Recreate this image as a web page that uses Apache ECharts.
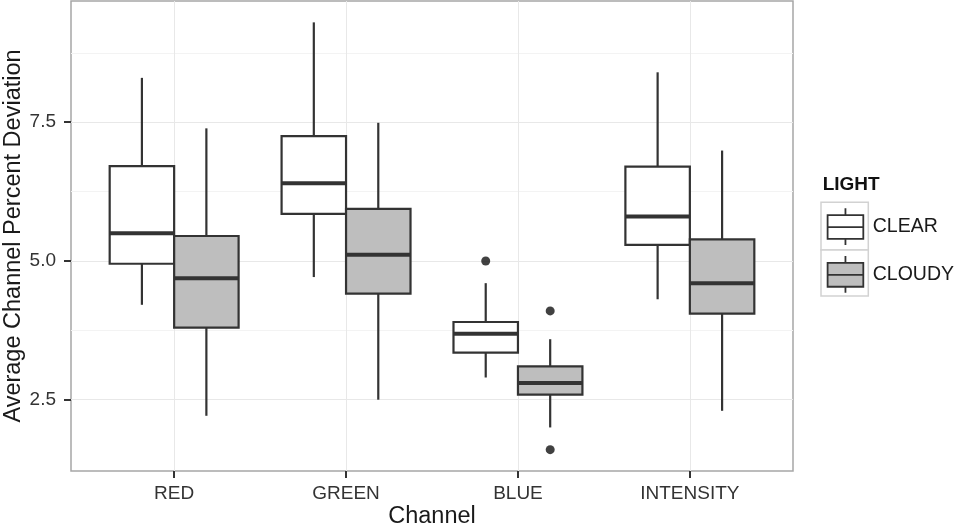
<!DOCTYPE html>
<html>
<head>
<meta charset="utf-8">
<script src="https://cdn.jsdelivr.net/npm/echarts@6/dist/echarts.min.js"></script>
<style>
  html, body { margin: 0; padding: 0; background: #ffffff; }
  #chart { width: 956px; height: 527px; }
</style>
</head>
<body>
<div id="chart"></div>
<script>
// Channel deviation by light condition: five-number summaries per channel
const categories = ['RED', 'GREEN', 'BLUE', 'INTENSITY'];
const lightLevels = ['CLEAR', 'CLOUDY'];

// [lower whisker, Q1, median, Q3, upper whisker]
const clearStats = [
  [4.21, 4.95, 5.50, 6.71, 8.30],
  [4.71, 5.85, 6.40, 7.25, 9.30],
  [2.90, 3.35, 3.69, 3.90, 4.60],
  [4.31, 5.29, 5.80, 6.70, 8.40]
];
const cloudyStats = [
  [2.21, 3.80, 4.69, 5.45, 7.39],
  [2.50, 4.41, 5.11, 5.94, 7.49],
  [2.00, 2.59, 2.80, 3.10, 3.59],
  [2.30, 4.05, 4.60, 5.39, 6.99]
];
const clearOutliers = [[], [], [5.0], []];
const cloudyOutliers = [[], [], [4.1, 1.6], []];

const yTicks = [2.5, 5.0, 7.5];
const yMinorTicks = [3.75, 6.25, 8.75];
const yRange = [1.215, 9.685];
const xRange = [0.4, 4.6];

const EDGE = '#333333';
const FILLS = ['#ffffff', '#bebebe'];
const DODGE = 0.1875;          // half of a box width, in category units
const OFFSETS = [-DODGE, DODGE];
const FONT = '"Liberation Sans", Arial, Helvetica, sans-serif';

function toBoxData(stats) {
  return stats.map((s, i) => [i + 1].concat(s));
}
function toOutlierData(outliers, offset) {
  const out = [];
  outliers.forEach((vals, i) => vals.forEach(v => out.push([i + 1 + offset, v])));
  return out;
}

function boxRenderer(offset, fill) {
  return function (params, api) {
    const cx = api.value(0) + offset;
    const lo = api.value(1), q1 = api.value(2), med = api.value(3), q3 = api.value(4), hi = api.value(5);
    const tl = api.coord([cx - DODGE, q3]);
    const br = api.coord([cx + DODGE, q1]);
    const m = api.coord([cx, med]);
    const pHi = api.coord([cx, hi]);
    const pLo = api.coord([cx, lo]);
    const lineStyle = { stroke: EDGE, lineWidth: 2.2, fill: null };
    return {
      type: 'group',
      children: [
        { type: 'line', shape: { x1: pHi[0], y1: pHi[1], x2: pHi[0], y2: tl[1] }, style: lineStyle },
        { type: 'line', shape: { x1: pLo[0], y1: br[1], x2: pLo[0], y2: pLo[1] }, style: lineStyle },
        { type: 'rect', shape: { x: tl[0], y: tl[1], width: br[0] - tl[0], height: br[1] - tl[1] },
          style: { fill: fill, stroke: EDGE, lineWidth: 2.2 } },
        { type: 'line', shape: { x1: tl[0], y1: m[1], x2: br[0], y2: m[1] },
          style: { stroke: EDGE, lineWidth: 4, fill: null } }
      ]
    };
  };
}

const allStats = [clearStats, cloudyStats];
const allOutliers = [clearOutliers, cloudyOutliers];

const series = [];
lightLevels.forEach((name, k) => {
  series.push({
    name: name,
    type: 'custom',
    renderItem: boxRenderer(OFFSETS[k], FILLS[k]),
    encode: { x: 0, y: [1, 2, 3, 4, 5] },
    data: toBoxData(allStats[k]),
    itemStyle: { color: FILLS[k], borderColor: EDGE },
    z: 3
  });
});
lightLevels.forEach((name, k) => {
  series.push({
    type: 'scatter',
    symbol: 'circle',
    symbolSize: 9,
    itemStyle: { color: '#111111' },
    data: toOutlierData(allOutliers[k], OFFSETS[k]),
    z: 4
  });
});

const boxIcon = 'path://M0,7 L36,7 L36,31 L0,31 Z M0,19 L36,19 M18,0 L18,7 M18,31 L18,37';

const chart = echarts.init(document.getElementById('chart'), null, { renderer: 'canvas' });
chart.setOption({
  animation: false,
  backgroundColor: '#ffffff',
  textStyle: { fontFamily: FONT },
  grid: {
    left: 71, top: 1, right: 163, bottom: 56,
    containLabel: false,
    outerBoundsMode: 'none',
    show: true, borderColor: '#a6a6a6', borderWidth: 1.5, backgroundColor: 'transparent'
  },
  xAxis: {
    type: 'value',
    min: xRange[0], max: xRange[1],
    name: 'Channel',
    nameLocation: 'middle',
    nameGap: 34,
    nameMoveOverlap: false,
    nameTextStyle: { fontSize: 23.5, color: '#1a1a1a', fontFamily: FONT },
    axisLine: { show: false },
    axisTick: { show: true, length: 7, customValues: [1, 2, 3, 4], lineStyle: { color: EDGE, width: 2 } },
    axisLabel: {
      customValues: [1, 2, 3, 4], margin: 13, fontSize: 19, color: '#333333', fontFamily: FONT,
      formatter: v => categories[Math.round(v) - 1]
    },
    splitLine: { show: true, lineStyle: { color: '#e8e8e8', width: 1 } }
  },
  yAxis: [
    {
      type: 'value',
      min: yRange[0], max: yRange[1],
      name: 'Average Channel Percent Deviation',
      nameLocation: 'middle',
      nameGap: 45,
      nameMoveOverlap: false,
      nameTextStyle: { fontSize: 23.5, color: '#1a1a1a', fontFamily: FONT },
      axisLine: { show: false },
      axisTick: { show: true, length: 7, customValues: yTicks, lineStyle: { color: EDGE, width: 2 } },
      axisLabel: {
        customValues: yTicks, margin: 15, fontSize: 19, color: '#333333', fontFamily: FONT,
        formatter: v => v.toFixed(1)
      },
      splitLine: { show: true, lineStyle: { color: '#e8e8e8', width: 1 } }
    },
    {
      type: 'value',
      min: yRange[0], max: yRange[1],
      position: 'left',
      axisLine: { show: false },
      axisTick: { show: false, customValues: yMinorTicks },
      axisLabel: { show: false, customValues: yMinorTicks },
      splitLine: { show: true, lineStyle: { color: '#f3f3f3', width: 1 } }
    }
  ],
  legend: {
    orient: 'vertical',
    left: 826.7,
    top: 207.3,
    padding: 0,
    itemWidth: 36.6,
    itemHeight: 36.7,
    itemGap: 9.3,
    selectedMode: false,
    z: 6,
    textStyle: { fontSize: 19.5, color: '#1a1a1a', fontFamily: FONT, padding: [0, 0, 0, 4] },
    data: lightLevels.map((name, k) => ({
      name: name,
      icon: boxIcon,
      itemStyle: { color: FILLS[k], borderColor: EDGE, borderWidth: 1.8 }
    }))
  },
  graphic: [
    { type: 'text', left: 822.7, top: 175, z: 5,
      style: { text: 'LIGHT', font: 'bold 19px ' + FONT, fill: '#111111' } },
    { type: 'rect', shape: { x: 821, y: 202.3, width: 47.3, height: 47.7 }, z: 1,
      style: { fill: '#ffffff', stroke: '#d2d2d2', lineWidth: 1.5 } },
    { type: 'rect', shape: { x: 821, y: 250, width: 47.3, height: 46 }, z: 1,
      style: { fill: '#ffffff', stroke: '#d2d2d2', lineWidth: 1.5 } }
  ],
  series: series
});
</script>
</body>
</html>
